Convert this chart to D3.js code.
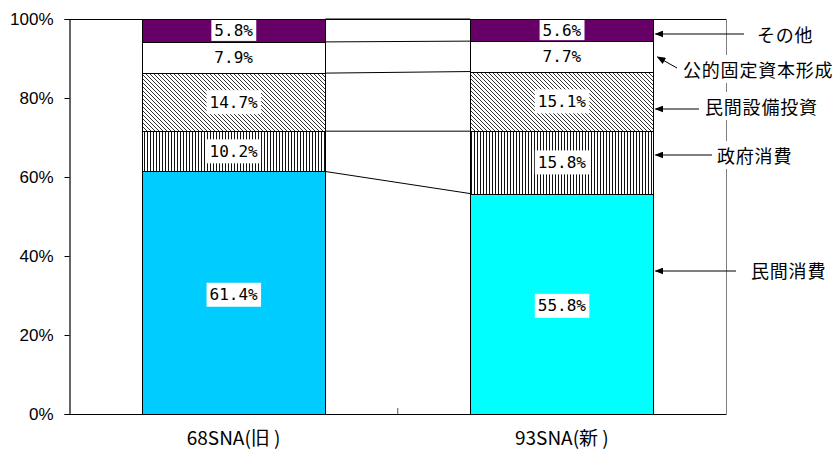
<!DOCTYPE html>
<html>
<head>
<meta charset="utf-8">
<script src="https://cdn.jsdelivr.net/npm/d3@7"></script>
<style>
  html, body { margin: 0; padding: 0; background: #fff; }
  svg { display: block; }
</style>
</head>
<body>
<svg id="chart" width="836" height="453"></svg>
<script>
// ---- data ----
const categories = ["68SNA(旧 )", "93SNA(新 )"];
const seriesNames = ["民間消費", "政府消費", "民間設備投資", "公的固定資本形成", "その他"];
const privateConsumption = [61.4, 55.8];
const governmentConsumption = [10.2, 15.8];
const privateInvestment = [14.7, 15.1];
const publicInvestment = [7.9, 7.7];
const otherItems = [5.8, 5.6];
const yTickValues = [0, 20, 40, 60, 80, 100];

// ---- layout ----
const plot = { left: 69.5, right: 726, top: 19, bottom: 414 };
const svg = d3.select("#chart");

const seriesValues = [privateConsumption, governmentConsumption, privateInvestment, publicInvestment, otherItems];
const table = categories.map((c, i) => {
  const row = { category: c };
  seriesNames.forEach((s, k) => row[s] = seriesValues[k][i]);
  return row;
});
const stacked = d3.stack().keys(seriesNames)(table);

const x = d3.scaleBand().domain(categories).range([plot.left, plot.right])
  .paddingInner(0.442).paddingOuter(0.221);
const y = d3.scaleLinear().domain([0, 100]).range([plot.bottom, plot.top]);

// ---- patterns ----
const defs = svg.append("defs");
const pv = defs.append("pattern").attr("id", "vert").attr("patternUnits", "userSpaceOnUse")
  .attr("width", 3).attr("height", 3);
pv.append("rect").attr("width", 3).attr("height", 3).attr("fill", "#fff");
pv.append("rect").attr("x", 0).attr("width", 1).attr("height", 3).attr("fill", "#111");

const pd = defs.append("pattern").attr("id", "diag").attr("patternUnits", "userSpaceOnUse")
  .attr("width", 4).attr("height", 4);
pd.append("rect").attr("width", 4).attr("height", 4).attr("fill", "#fff");
pd.append("path").attr("d", "M-1,-1 L5,5 M-1,3 L1,5 M3,-1 L5,1")
  .attr("stroke", "#333").attr("stroke-width", 1);

defs.append("marker").attr("id", "arrow").attr("viewBox", "0 0 10 8")
  .attr("refX", 9).attr("refY", 4).attr("markerWidth", 9).attr("markerHeight", 7)
  .attr("markerUnits", "userSpaceOnUse").attr("orient", "auto")
  .append("path").attr("d", "M0,0 L10,4 L0,8 Z").attr("fill", "#000");

const bottomColors = ["#00CCFF", "#00FFFF"];
function fillFor(key, i) {
  if (key === "民間消費") return bottomColors[i];
  if (key === "政府消費") return "url(#vert)";
  if (key === "民間設備投資") return "url(#diag)";
  if (key === "公的固定資本形成") return "#FFFFFF";
  return "#660066";
}

// ---- plot frame ----
svg.append("line").attr("x1", plot.left).attr("x2", plot.right).attr("y1", plot.top + 0.5).attr("y2", plot.top + 0.5)
  .attr("stroke", "#000");
svg.append("line").attr("x1", plot.right + 0.5).attr("x2", plot.right + 0.5).attr("y1", plot.top).attr("y2", plot.bottom)
  .attr("stroke", "#808080");

// connector lines between stacks
const b0 = x(categories[0]) + x.bandwidth(), b1 = x(categories[1]);
stacked.forEach(layer => {
  svg.append("line")
    .attr("x1", b0).attr("x2", b1)
    .attr("y1", y(layer[0][1])).attr("y2", y(layer[1][1]))
    .attr("stroke", "#000").attr("stroke-width", 1);
});

// bars
stacked.forEach(layer => {
  svg.append("g").selectAll("rect").data(layer).join("rect")
    .attr("x", d => Math.round(x(d.data.category)) + 0.5)
    .attr("width", Math.round(x.bandwidth()))
    .attr("y", d => Math.round(y(d[1])) + 0.5)
    .attr("height", d => Math.round(y(d[0])) - Math.round(y(d[1])))
    .attr("fill", (d, i) => fillFor(layer.key, i))
    .attr("stroke", "#000").attr("stroke-width", 1);
});

// value labels
stacked.forEach(layer => {
  layer.forEach((d, i) => {
    const cx = x(d.data.category) + x.bandwidth() / 2;
    const segH = y(d[0]) - y(d[1]);
    const cy = (y(d[0]) + y(d[1])) / 2 + (segH > 100 ? 2 : 0);
    const g = svg.append("g");
    const t = g.append("text").attr("x", cx).attr("y", cy)
      .attr("text-anchor", "middle").attr("dominant-baseline", "central")
      .attr("font-family", "'DejaVu Sans Mono', 'Liberation Mono', monospace")
      .attr("font-size", 16).attr("fill", "#000")
      .text(d3.format(".1f")(d[1] - d[0]) + "%");
    const bb = t.node().getBBox();
    const bh = Math.min(24, segH - 2);
    g.insert("rect", "text").attr("x", bb.x - 3).attr("y", cy - bh / 2)
      .attr("width", bb.width + 6).attr("height", bh).attr("fill", "#fff");
  });
});

// axes
const yAxis = d3.axisLeft(y).tickValues(yTickValues).tickSize(5).tickPadding(11)
  .tickFormat(d => d + "%");
const gy = svg.append("g").attr("transform", `translate(${plot.left},0)`).call(yAxis);
gy.select(".domain").attr("stroke", "#000").attr("stroke-width", 1.2);
gy.selectAll(".tick line").attr("stroke", "#000");
gy.selectAll(".tick text").attr("font-family", "'Liberation Sans', Arial, sans-serif")
  .attr("font-size", 17).attr("fill", "#000");

const xAxis = d3.axisBottom(x).tickSize(0).tickPadding(18);
const gx = svg.append("g").attr("transform", `translate(0,${plot.bottom})`).call(xAxis);
gx.select(".domain").attr("stroke", "#000").attr("stroke-width", 1.2);
gx.selectAll(".tick text").attr("font-family", "'Noto Sans CJK JP', sans-serif")
  .attr("font-size", 19).attr("fill", "#000");
// category boundary tick (inside)
svg.append("line").attr("x1", plot.left + (plot.right - plot.left) / 2).attr("x2", plot.left + (plot.right - plot.left) / 2)
  .attr("y1", plot.bottom).attr("y2", plot.bottom - 6).attr("stroke", "#555");

// ---- annotations (series labels with arrows) ----
const tipX = x(categories[1]) + x.bandwidth() + 2;
const annotations = [
  { name: "その他", tx: 757, ty: 34, from: [744, 34], to: [tipX, 34] },
  { name: "公的固定資本形成", tx: 683, ty: 69, from: [677, 68], to: [tipX + 2, 57] },
  { name: "民間設備投資", tx: 705, ty: 106, from: [699, 109], to: [tipX, 109] },
  { name: "政府消費", tx: 717, ty: 155, from: [712, 155], to: [tipX, 155] },
  { name: "民間消費", tx: 751, ty: 270, from: [736, 271], to: [tipX, 271] }
];
annotations.forEach(a => {
  const g = svg.append("g");
  const t = g.append("text").attr("x", a.tx).attr("y", a.ty)
    .attr("dominant-baseline", "central")
    .attr("font-family", "'Noto Sans CJK JP', sans-serif")
    .attr("font-size", 18).attr("letter-spacing", 0.8).attr("fill", "#000")
    .text(a.name);
  const bb = t.node().getBBox();
  g.insert("rect", "text").attr("x", bb.x - 3).attr("y", bb.y - 1)
    .attr("width", bb.width + 6).attr("height", bb.height + 2).attr("fill", "#fff");
  svg.append("line").attr("x1", a.from[0]).attr("y1", a.from[1])
    .attr("x2", a.to[0]).attr("y2", a.to[1])
    .attr("stroke", "#000").attr("stroke-width", 1)
    .attr("marker-end", "url(#arrow)");
});
</script>
</body>
</html>
